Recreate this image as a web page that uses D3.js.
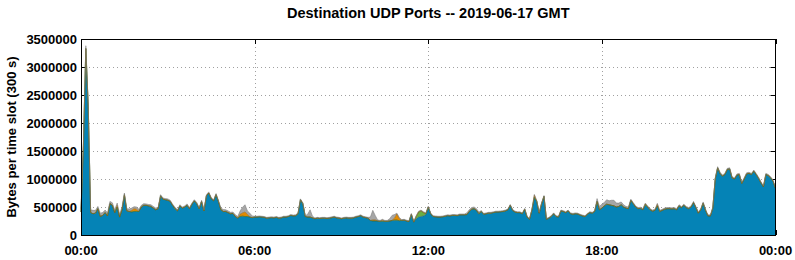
<!DOCTYPE html>
<html><head><meta charset="utf-8">
<script src="https://cdn.jsdelivr.net/npm/d3@7"></script>
<style>html,body{margin:0;padding:0;background:#fff;}svg{display:block;}text{font-family:"Liberation Sans",Arial,sans-serif;font-weight:bold;fill:#000;}</style>
</head><body><svg id="c" width="795" height="260"></svg>
<script>
// ---- data (values in kilobytes per 300 s slot, slot i = i*5 minutes) ----
const title = "Destination UDP Ports -- 2019-06-17 GMT";
const yLabel = "Bytes per time slot (300 s)";
const slotMinutes = 5;
const unit = 1000;
const xTickMinutes = [0, 360, 720, 1080, 1440];
const xTickLabels = ["00:00", "06:00", "12:00", "18:00", "00:00"];
const yTicks = [0, 500000, 1000000, 1500000, 2000000, 2500000, 3000000, 3500000];
const seriesKeys = ["blue", "green", "orange", "gray"];

const blueK = [
 410,1600,3330,2300,400,380,390,470,330,350,
 400,340,560,530,400,500,320,450,720,430,
 420,410,420,420,420,500,530,530,520,510,
 480,450,470,700,640,630,620,600,530,470,
 430,520,480,500,530,470,550,610,560,470,
 600,430,700,750,650,610,720,600,450,420,
 420,400,380,385,330,300,330,335,330,330,
 320,310,320,320,325,320,315,300,305,310,
 305,315,300,305,320,320,330,350,340,345,
 380,630,560,330,320,320,305,290,300,295,
 300,300,295,300,310,320,305,300,290,300,
 305,300,300,305,320,330,345,320,310,300,
 260,250,250,250,245,245,245,245,250,260,
 265,265,255,260,265,250,240,370,230,290,
 320,330,340,360,500,380,330,325,320,320,
 325,335,345,340,350,350,345,360,360,360,
 365,420,460,470,440,380,420,370,380,390,
 390,400,410,410,415,420,430,450,530,440,
 410,400,400,380,460,320,280,450,670,600,
 390,560,690,280,300,330,380,330,320,430,
 420,400,430,380,370,380,375,355,340,330,
 370,400,390,420,600,450,480,520,550,540,
 530,520,500,510,540,500,480,470,620,560,
 500,470,475,450,530,500,450,425,440,520,
 420,440,460,470,470,465,470,450,520,490,
 530,490,470,500,580,490,390,450,570,440,
 340,340,480,1000,1200,1100,1050,1080,1170,1180,
 1020,1000,1070,1080,920,1000,1090,1100,1080,1140,
 1080,1010,930,860,1080,1060,1020,960,830
];
const grayK = [
 60,40,50,40,50,60,50,40,60,50,
 45,55,40,45,50,40,55,45,30,40,
 45,40,35,40,40,30,30,25,25,30,
 30,30,25,20,20,20,25,20,20,25,
 20,20,20,20,25,20,20,20,20,20,
 20,20,20,20,20,20,20,20,30,35,
 30,30,25,25,30,30,60,100,130,60,
 70,30,15,15,15,15,15,15,15,15,
 15,15,15,15,15,15,15,15,15,15,
 15,15,15,15,50,130,30,15,15,15,
 15,15,15,15,15,15,15,15,15,15,
 15,15,15,15,15,15,15,15,15,15,
 60,170,80,20,15,15,15,15,40,90,
 60,15,15,15,15,15,15,15,15,15,
 15,15,15,15,15,15,15,15,15,15,
 15,15,15,15,15,15,15,15,15,15,
 30,30,30,30,30,30,15,15,15,15,
 15,15,15,15,15,15,15,15,15,15,
 15,15,15,15,15,15,15,15,15,15,
 15,15,15,15,15,15,15,15,15,15,
 15,15,15,15,15,15,15,15,15,15,
 15,15,15,15,50,60,70,60,80,70,
 90,100,70,60,50,40,30,30,20,20,
 20,20,20,20,20,20,20,20,20,20,
 20,20,20,20,20,20,20,20,20,20,
 20,20,20,20,20,20,20,20,20,20,
 20,20,20,20,20,20,20,20,20,20,
 20,20,20,20,20,20,20,20,20,20,
 20,20,20,20,20,20,20,20,20
];
// sparse minor series: [slot, kilobytes]; all other slots are 0
const orangeK = [[15,30],[21,30],[22,50],[23,40],[66,40],[67,60],[68,80],[69,40],
 [121,20],[122,20],[125,20],[130,40],[131,110],[132,40],[188,40],[239,25]];
const greenK = [[139,40],[140,90],[141,100],[142,60],[143,20],[234,20]];

// ---- build table ----
const orangeMap = new Map(orangeK), greenMap = new Map(greenK);
const table = blueK.map((b, i) => ({
  t: i * slotMinutes,
  blue: b * unit,
  green: (greenMap.get(i) || 0) * unit,
  orange: (orangeMap.get(i) || 0) * unit,
  gray: grayK[i] * unit
}));

// ---- layout ----
const L = 81, R = 775.5, T = 39, B = 235;
const svg = d3.select("#c");
const x = d3.scaleLinear().domain([0, 1440]).range([L, R]);
const y = d3.scaleLinear().domain([0, 3500000]).range([B, T]);
const colors = {blue: "#0583b6", green: "#6aae45", orange: "#e28a00", gray: "#a6a6a6"};
const edges = {blue: "#1f5c70", green: "#3f7a2a", orange: "#9a5e00", gray: "#7a7a7a"};

svg.append("rect").attr("width", 795).attr("height", 260).attr("fill", "#fff");

// grid
const g = svg.append("g");
g.selectAll(".gy").data(yTicks.slice(1, -1)).enter().append("line")
  .attr("x1", L).attr("x2", R).attr("y1", d => Math.round(y(d)) + 0.5).attr("y2", d => Math.round(y(d)) + 0.5)
  .attr("stroke", "#a0a0a0").attr("stroke-width", 1).attr("stroke-dasharray", "1,3");
g.selectAll(".gx").data(xTickMinutes.slice(1, -1)).enter().append("line")
  .attr("y1", T).attr("y2", B).attr("x1", d => Math.round(x(d)) + 0.5).attr("x2", d => Math.round(x(d)) + 0.5)
  .attr("stroke", "#a0a0a0").attr("stroke-width", 1).attr("stroke-dasharray", "1,3");

// inward ticks (mirrored)
const tk = 5;
yTicks.forEach(v => {
  const yy = Math.round(y(v)) + 0.5;
  g.append("line").attr("x1", L).attr("x2", L + tk).attr("y1", yy).attr("y2", yy).attr("stroke", "#000");
  g.append("line").attr("x1", R - tk).attr("x2", R).attr("y1", yy).attr("y2", yy).attr("stroke", "#000");
});
xTickMinutes.forEach(v => {
  const xx = Math.round(x(v)) + 0.5;
  g.append("line").attr("x1", xx).attr("x2", xx).attr("y1", T).attr("y2", T + tk).attr("stroke", "#000");
  g.append("line").attr("x1", xx).attr("x2", xx).attr("y1", B - tk).attr("y2", B).attr("stroke", "#000");
});

// stacked areas
const stack = d3.stack().keys(seriesKeys);
const layers = stack(table);
const area = d3.area().x(d => x(d.data.t)).y0(d => y(d[0])).y1(d => y(d[1]));
const topLine = d3.line().x(d => x(d.data.t)).y(d => y(d[1]));
const ag = svg.append("g");
layers.forEach(layer => {
  ag.append("path").attr("d", area(layer)).attr("fill", colors[layer.key]);
});
layers.forEach(layer => {
  ag.append("path").attr("d", topLine(layer)).attr("fill", "none")
    .attr("stroke", edges[layer.key]).attr("stroke-width", 0.7).attr("stroke-opacity", 0.8);
});

// border
svg.append("rect").attr("x", L + 0.5).attr("y", T + 0.5).attr("width", R - L - 0.5).attr("height", B - T)
  .attr("fill", "none").attr("stroke", "#000").attr("stroke-width", 1);

// tick labels
svg.selectAll(".yl").data(yTicks).enter().append("text")
  .attr("x", L - 4).attr("y", d => y(d)).attr("dy", "0.36em").attr("text-anchor", "end")
  .attr("font-size", 13).text(d => d3.format("d")(d));
svg.selectAll(".xl").data(xTickMinutes).enter().append("text")
  .attr("x", d => x(d)).attr("y", 255).attr("text-anchor", "middle")
  .attr("font-size", 13).text((d, i) => xTickLabels[i]);

// titles
svg.append("text").attr("x", (L + R) / 2).attr("y", 18).attr("text-anchor", "middle")
  .attr("font-size", 14.5).text(title);
svg.append("text").attr("transform", `translate(16,${(T + B) / 2}) rotate(-90)`)
  .attr("text-anchor", "middle").attr("font-size", 13).text(yLabel);
</script></body></html>
